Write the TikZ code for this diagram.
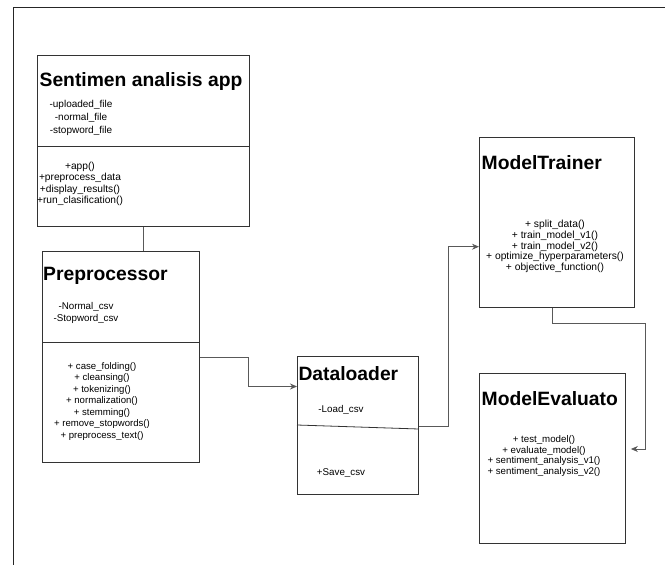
\documentclass[tikz,border=0pt]{standalone}
\usepackage{fontspec}
\setmainfont{Liberation Sans}
\usetikzlibrary{arrows.meta}
\begin{document}
\begin{tikzpicture}[x=1pt,y=-1pt,
  box/.style={draw=black!80, line width=0.9pt, rectangle, inner sep=0pt, anchor=north west},
  divider/.style={draw=black!80, line width=0.8pt},
  ttl/.style={font=\fontsize{19.3}{22}\selectfont\bfseries, inner sep=0pt},
  txt/.style={align=center, inner sep=0pt},
  conn/.style={draw=black!65, line width=0.9pt},
  arr/.style={conn, -{Stealth[length=7pt,width=6pt]}}]
\useasboundingbox (0,0) rectangle (665,565);
\draw[black!85, line width=1pt] (13,565) -- (13,7) -- (665,7);

% boxes
\node[box, minimum width=212pt, minimum height=171pt] (app) at (37,55) {};
\node[box, minimum width=157pt, minimum height=211pt] (pre) at (42,251) {};
\node[box, minimum width=121pt, minimum height=138pt] (dl) at (297,356) {};
\node[box, minimum width=155pt, minimum height=170pt] (mt) at (479,137) {};
\node[box, minimum width=146pt, minimum height=170pt] (me) at (479,372.5) {};

% dividers
\draw[divider] (app.west |- 0,146) -- (app.east |- 0,146);
\draw[divider] (pre.west |- 0,342) -- (pre.east |- 0,342);
\draw[divider] (dl.west |- 0,425) -- (dl.east |- 0,429);

% Sentimen analisis app
\node[ttl] (appT) at (141,82) {Sentimen analisis app};
\node[txt, font=\fontsize{10}{12.6}\selectfont] (appA) at (81,118) {-uploaded\_file\\-normal\_file\\-stopword\_file};
\node[txt, font=\fontsize{10.2}{11.4}\selectfont] (appM) at (80,184) {+app()\\+preprocess\_data\\+display\_results()\\+run\_clasification()};

% Preprocessor
\node[ttl, anchor=west] (preT) at (43,276) {Preprocessor};
\node[txt, font=\fontsize{9.8}{12.6}\selectfont] (preA) at (86,313) {-Normal\_csv\\-Stopword\_csv};
\node[txt, font=\fontsize{9.6}{11.5}\selectfont] (preM) at (102,401.5) {+ case\_folding()\\+ cleansing()\\+ tokenizing()\\+ normalization()\\+ stemming()\\+ remove\_stopwords()\\+ preprocess\_text()};

% Dataloader
\node[ttl, anchor=west] (dlT) at (298.3,374) {Dataloader};
\node[txt, font=\fontsize{9.8}{12}\selectfont] (dlA) at (341,410) {-Load\_csv};
\node[txt, font=\fontsize{9.8}{12}\selectfont] (dlM) at (341,473) {+Save\_csv};

% ModelTrainer
\node[ttl, anchor=west] (mtT) at (481.5,163) {ModelTrainer};
\node[txt, font=\fontsize{10.3}{10.6}\selectfont] (mtM) at (555,246.5) {+ split\_data()\\+ train\_model\_v1()\\+ train\_model\_v2()\\+ optimize\_hyperparameters()\\+ objective\_function()};

% ModelEvaluato
\node[ttl, anchor=west] (meT) at (481.5,399) {ModelEvaluato};
\node[txt, font=\fontsize{9.7}{10.5}\selectfont] (meM) at (544,456) {+ test\_model()\\+ evaluate\_model()\\+ sentiment\_analysis\_v1()\\+ sentiment\_analysis\_v2()};

% connectors
\draw[conn] (app.south) -- (pre.north -| app.south);

\coordinate (b1) at (248.3,357);
\coordinate (b2) at (248.3,386.5);
\draw[arr] (pre.east |- b1) -- (b1) -- (b2) -- (dl.west |- b2);

\coordinate (b3) at (448.5,426);
\coordinate (b4) at (448.5,246.7);
\draw[arr] (dl.east |- b3) -- (b3) -- (b4) -- (mt.west |- b4);

\coordinate (b5) at (552.3,323.7);
\coordinate (b6) at (645.3,323.7);
\coordinate (b7) at (645.3,449);
\draw[arr, shorten >=5pt] (mt.south -| b5) -- (b5) -- (b6) -- (b7) -- (me.east |- b7);
\end{tikzpicture}
\end{document}
